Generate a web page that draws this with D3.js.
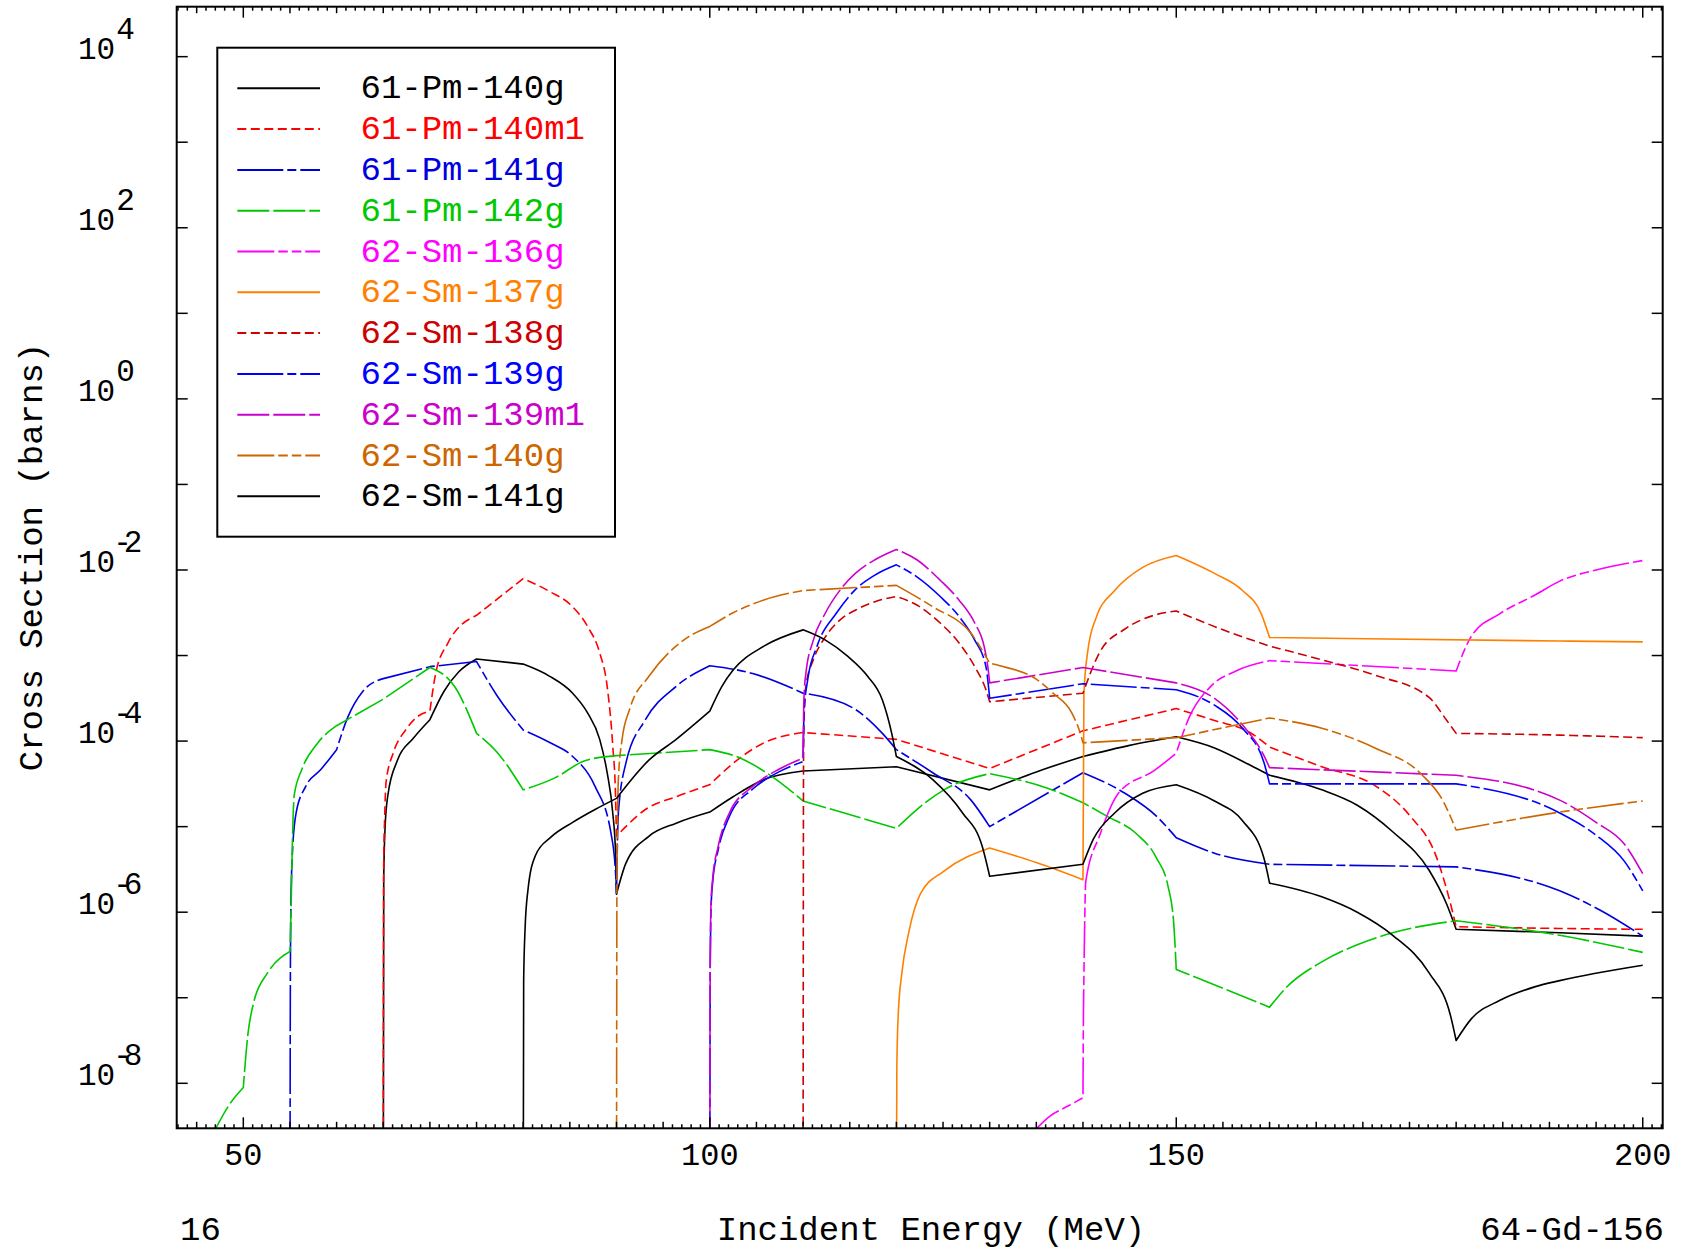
<!DOCTYPE html>
<html><head><meta charset="utf-8">
<script src="https://cdn.jsdelivr.net/npm/d3@7"></script>
<style>body{margin:0;background:#fff}svg{display:block}</style>
</head><body>
<svg id="chart" width="1686" height="1251"></svg>
<script>
// ---------------- DATA (energy in MeV, log10 of cross section in barns) ----------------
const xTickValues = [50, 100, 150, 200];
const yTickExponents = [4, 2, 0, -2, -4, -6, -8];
const kinkEnergies = [50, 55, 60, 65, 70, 75, 80, 90, 100, 110, 120, 130, 140, 150, 160, 180, 200];
const seriesNames = ["61-Pm-140g","61-Pm-140m1","61-Pm-141g","61-Pm-142g","62-Sm-136g","62-Sm-137g","62-Sm-138g","62-Sm-139g","62-Sm-139m1","62-Sm-140g","62-Sm-141g"];
const seriesColors = ["#000000","#ff0000","#0000dd","#00c800","#ff00ff","#ff8000","#cc0000","#0000ff","#cc00cc","#cc6600","#000000"];
const seriesDashes = ["", "9,4.5", "46,4,9,4", "32,4", "37,4,9.5,4,9.5,4", "", "9,4.5", "46,4,9,4", "32,4", "37,4,9.5,4,9.5,4", ""];

const pm140g = [[65.0,-9.6],[65.05,-5.6],[65.2,-5.0],[65.5,-4.63],[66.5,-4.23],[68.2,-3.97],[70,-3.75],[71.5,-3.42],[73.1,-3.19],[75,-3.04],[80,-3.10],[82.8,-3.24],[85.3,-3.44],[86.9,-3.67],[88.2,-3.98],[89.0,-4.37],[89.6,-4.84],[89.9,-5.31],[90,-5.79],[91.0,-5.43],[93.5,-5.11],[96.4,-4.96],[100,-4.83],[102.5,-4.65],[105.8,-4.45],[110,-4.35],[120,-4.30],[130,-4.57],[135,-4.36],[140,-4.18],[145,-4.05],[150,-3.95],[154.1,-4.08],[157.9,-4.28],[160,-4.40],[165.6,-4.57],[169.4,-4.75],[173.2,-5.06],[177.1,-5.51],[179.0,-5.91],[180,-6.20],[191.1,-6.24],[200,-6.28]];
const pm140m1 = [[65.0,-9.6],[65.05,-5.4],[65.15,-4.9],[65.3,-4.48],[66.1,-4.13],[67.4,-3.87],[68.6,-3.72],[70,-3.65],[70.6,-3.22],[71.9,-2.86],[75,-2.53],[80,-2.10],[82.8,-2.25],[85.3,-2.43],[86.9,-2.66],[88.2,-2.97],[89.0,-3.36],[89.6,-4.06],[89.9,-4.65],[90,-5.11],[91.0,-5.00],[93.1,-4.80],[96.4,-4.65],[100,-4.51],[102.5,-4.26],[105.8,-4.02],[110,-3.90],[120,-3.98],[130,-4.32],[140,-3.88],[150,-3.62],[154.1,-3.76],[157.9,-3.90],[160,-4.07],[165.6,-4.30],[171.3,-4.52],[175.1,-4.88],[177.8,-5.33],[179.3,-5.86],[180,-6.17],[191.1,-6.19],[200,-6.20]];
const pm141g = [[55.0,-9.6],[55.05,-6.6],[55.12,-5.8],[55.25,-5.34],[55.66,-4.84],[56.69,-4.53],[58.33,-4.33],[60,-4.10],[61.2,-3.72],[62.8,-3.42],[65,-3.27],[70,-3.13],[75,-3.07],[77.2,-3.47],[80,-3.87],[82.9,-4.02],[85.3,-4.18],[87.7,-4.53],[89.4,-5.07],[89.9,-5.54],[90,-5.78],[90.2,-4.84],[91.0,-4.26],[93.1,-3.75],[96.4,-3.36],[100,-3.12],[104.6,-3.21],[110,-3.44],[115.6,-3.63],[118.5,-3.91],[120,-4.10],[123.9,-4.37],[128.0,-4.69],[130,-5.00],[140,-4.37],[144.5,-4.61],[147.9,-4.88],[150,-5.13],[154.1,-5.31],[160,-5.44],[180,-5.47],[191.1,-5.75],[195.5,-5.98],[200,-6.28]];
const pm142g = [[46.7,-8.6],[48.5,-8.25],[50,-8.05],[50.5,-7.42],[51.1,-7.06],[52.6,-6.71],[55,-6.46],[55.13,-5.9],[55.25,-5.24],[55.46,-4.63],[56.28,-4.33],[57.92,-4.03],[60,-3.82],[65,-3.51],[70,-3.14],[72.7,-3.37],[75,-3.91],[77.2,-4.13],[80,-4.57],[83.4,-4.43],[86.6,-4.23],[90,-4.17],[100,-4.10],[103.3,-4.20],[106.6,-4.41],[110,-4.70],[120,-5.02],[122.2,-4.80],[125.1,-4.57],[130,-4.38],[136.2,-4.55],[140,-4.72],[142.6,-4.88],[145.7,-5.08],[147.9,-5.37],[149.1,-5.69],[149.7,-6.09],[150,-6.67],[160,-7.11],[161.7,-6.89],[165.6,-6.58],[169.4,-6.38],[173.2,-6.24],[180,-6.10],[191.1,-6.27],[200,-6.47]];
const sm136g = [[134.4,-8.6],[136.5,-8.38],[138.5,-8.26],[140,-8.17],[140.05,-7.2],[140.1,-6.76],[140.3,-5.64],[141.8,-5.10],[143.8,-4.61],[147.7,-4.34],[150,-4.14],[151.4,-3.72],[153.7,-3.36],[156.4,-3.18],[160,-3.06],[180,-3.18],[181.6,-2.78],[184.7,-2.51],[188.5,-2.29],[191.1,-2.13],[195,-2.00],[200,-1.89]];
const sm137g = [[120.0,-9.6],[120.05,-7.8],[120.2,-7.2],[120.6,-6.7],[121.3,-6.25],[122.6,-5.78],[125.1,-5.52],[130,-5.25],[135,-5.42],[140,-5.62],[140.1,-3.45],[140.5,-2.96],[141.4,-2.56],[143.4,-2.24],[146.4,-1.97],[150,-1.83],[154.1,-2.04],[157.1,-2.24],[159.1,-2.51],[160,-2.79],[191.1,-2.83],[200,-2.84]];
const sm138g = [[110.0,-9.6],[110.05,-4.2],[110.12,-3.7],[110.3,-3.36],[111.1,-3.05],[112.4,-2.78],[114.0,-2.58],[115.6,-2.47],[117.7,-2.37],[120,-2.31],[122.2,-2.41],[124.7,-2.62],[126.7,-2.85],[128.4,-3.13],[129.6,-3.40],[130,-3.54],[140,-3.44],[141.8,-2.96],[144.5,-2.69],[147.6,-2.53],[150,-2.48],[154.8,-2.69],[160,-2.89],[165.6,-3.05],[171.3,-3.23],[177.1,-3.49],[179.0,-3.76],[180,-3.91],[191.1,-3.93],[200,-3.96]];
const sm139g = [[100.0,-9.6],[100.05,-6.6],[100.15,-5.9],[100.3,-5.66],[100.9,-5.27],[102.1,-4.88],[104.6,-4.56],[107.4,-4.36],[110,-4.24],[110.1,-3.67],[110.5,-3.28],[111.5,-2.89],[113.6,-2.50],[115.6,-2.23],[117.7,-2.06],[120,-1.94],[122.2,-2.08],[124.7,-2.31],[126.7,-2.54],[128.4,-2.82],[129.6,-3.13],[130,-3.50],[140,-3.33],[150,-3.40],[154.1,-3.58],[157.1,-3.85],[159.4,-4.25],[160,-4.50],[180,-4.50],[191.1,-4.84],[195,-5.10],[198,-5.40],[200,-5.75]];
const sm139m1 = [[100.0,-9.6],[100.05,-6.5],[100.15,-5.85],[100.3,-5.62],[100.9,-5.23],[102.1,-4.84],[104.6,-4.53],[107.4,-4.33],[110,-4.20],[110.1,-3.48],[110.3,-3.21],[111.1,-2.82],[112.4,-2.50],[114.0,-2.23],[115.6,-2.04],[117.7,-1.88],[120,-1.76],[122.2,-1.88],[124.7,-2.12],[126.7,-2.35],[128.4,-2.62],[129.4,-2.89],[129.8,-3.13],[130,-3.32],[140,-3.14],[150,-3.32],[154.1,-3.50],[157.1,-3.81],[159.4,-4.17],[160,-4.31],[180,-4.40],[191.1,-4.69],[195,-4.95],[198,-5.20],[200,-5.55]];
const sm140g = [[90.0,-9.6],[90.05,-5.6],[90.2,-4.45],[90.6,-3.98],[91.4,-3.63],[93.5,-3.24],[97.2,-2.82],[100,-2.66],[102.5,-2.50],[105.8,-2.35],[110,-2.24],[120,-2.18],[123.9,-2.43],[128.0,-2.74],[130,-3.09],[131.1,-3.12],[134.9,-3.27],[136.9,-3.45],[138.8,-3.67],[139.8,-3.94],[140,-4.02],[150,-3.96],[160,-3.73],[165.6,-3.85],[171.3,-4.08],[176.3,-4.39],[178.6,-4.70],[180,-5.04],[191.1,-4.83],[200,-4.70]];
const sm141g = [[80.0,-9.6],[80.05,-6.8],[80.2,-6.2],[80.5,-5.75],[81.3,-5.34],[83.0,-5.12],[85.3,-4.95],[87.7,-4.80],[90,-4.67],[93.5,-4.22],[96.4,-3.98],[100,-3.65],[101.3,-3.36],[102.5,-3.17],[105.8,-2.89],[110,-2.70],[112.4,-2.82],[114.8,-3.01],[116.9,-3.24],[118.5,-3.52],[119.5,-3.91],[120,-4.18],[123.9,-4.45],[127.1,-4.84],[129.2,-5.23],[130,-5.58],[140,-5.44],[141.1,-5.15],[143.4,-4.84],[146.4,-4.61],[150,-4.51],[154.1,-4.70],[157.1,-4.93],[159.4,-5.37],[160,-5.66],[165.6,-5.82],[169.4,-6.00],[173.2,-6.27],[177.1,-6.71],[179.4,-7.21],[180,-7.50],[181.6,-7.25],[184.7,-7.03],[188.5,-6.87],[191.1,-6.80],[200,-6.62]];
const seriesData = [pm140g, pm140m1, pm141g, pm142g, sm136g, sm137g, sm138g, sm139g, sm139m1, sm140g, sm141g];

// ---------------- LAYOUT ----------------
const FONT = "'Liberation Mono','DejaVu Sans Mono',monospace";
const P = {left: 176.7, right: 1662.7, top: 6.7, bottom: 1128.3};
const svg = d3.select("#chart");
const x = d3.scaleLinear().domain([42.86, 202.14]).range([P.left, P.right]);
const y = d3.scaleLog().domain([Math.pow(10, -8.526), Math.pow(10, 4.584)]).range([P.bottom, P.top]);

svg.append("defs").append("clipPath").attr("id", "clip")
  .append("rect").attr("x", P.left).attr("y", P.top)
  .attr("width", P.right - P.left).attr("height", P.bottom - P.top);

// data lines: smooth between grid energies, sharp corners at grid energies
const segLine = d3.line().x(d => x(d[0])).y(d => y(Math.pow(10, d[1]))).curve(d3.curveMonotoneX);
function pathFor(s) {
  const segs = [];
  let cur = [s[0]];
  for (let i = 1; i < s.length; i++) {
    cur.push(s[i]);
    if (kinkEnergies.includes(s[i][0]) && i < s.length - 1) { segs.push(cur); cur = [s[i]]; }
  }
  segs.push(cur);
  return segs.map((seg, k) => {
    const d = segLine(seg);
    return k === 0 ? d : d.replace(/^M/, "L");
  }).join("");
}
const gLines = svg.append("g").attr("clip-path", "url(#clip)");
seriesData.forEach((s, i) => {
  gLines.append("path").attr("d", pathFor(s)).attr("fill", "none")
    .attr("stroke", seriesColors[i]).attr("stroke-width", 1.6)
    .attr("stroke-dasharray", seriesDashes[i] || null)
    .attr("stroke-linejoin", "round");
});

// ticks
const gT = svg.append("g").attr("stroke", "#000").attr("stroke-width", 1.5);
d3.range(43, 203, 1).forEach(v => {
  const len = v % 50 === 0 ? 11 : (v % 5 === 0 ? 6.5 : 4);
  const px = x(v);
  gT.append("line").attr("x1", px).attr("x2", px).attr("y1", P.bottom).attr("y2", P.bottom - len);
  gT.append("line").attr("x1", px).attr("x2", px).attr("y1", P.top).attr("y2", P.top + len);
});
d3.range(-8, 5).forEach(e => {
  const py = y(Math.pow(10, e));
  gT.append("line").attr("x1", P.left).attr("x2", P.left + 11).attr("y1", py).attr("y2", py);
  gT.append("line").attr("x1", P.right).attr("x2", P.right - 11).attr("y1", py).attr("y2", py);
});

// frame
svg.append("rect").attr("x", P.left).attr("y", P.top)
  .attr("width", P.right - P.left).attr("height", P.bottom - P.top)
  .attr("fill", "none").attr("stroke", "#000").attr("stroke-width", 2);

// x tick labels
svg.append("g").selectAll("text").data(xTickValues).join("text")
  .attr("x", d => x(d)).attr("y", 1165).attr("text-anchor", "middle")
  .attr("font-family", FONT).attr("font-size", 32).text(d => d);

// y tick labels: "10" with superscript exponent
const gY = svg.append("g").attr("font-family", FONT).attr("font-size", 31);
yTickExponents.forEach(e => {
  const py = y(Math.pow(10, e));
  const t = gY.append("text").attr("x", 78).attr("y", py + 2);
  t.append("tspan").text("10");
  t.append("tspan").attr("dy", -20).attr("dx", e < 0 ? -2 : 1)
    .attr("letter-spacing", e < 0 ? -8 : 0)
    .text(e < 0 ? "-" + Math.abs(e) : String(e));
});

// axis titles
svg.append("text").attr("transform", "translate(42,557) rotate(-90)")
  .attr("text-anchor", "middle").attr("font-family", FONT).attr("font-size", 34)
  .text("Cross Section (barns)");
svg.append("text").attr("x", 931).attr("y", 1240).attr("text-anchor", "middle")
  .attr("font-family", FONT).attr("font-size", 34).text("Incident Energy (MeV)");
svg.append("text").attr("x", 180).attr("y", 1240)
  .attr("font-family", FONT).attr("font-size", 34).text("16");
svg.append("text").attr("x", 1664).attr("y", 1240).attr("text-anchor", "end")
  .attr("font-family", FONT).attr("font-size", 34).text("64-Gd-156");

// legend
const L = {x: 217.3, y: 47.7, w: 397.7, h: 489, row0: 88.3, dy: 40.8};
const gL = svg.append("g");
gL.append("rect").attr("x", L.x).attr("y", L.y).attr("width", L.w).attr("height", L.h)
  .attr("fill", "#fff").attr("stroke", "#000").attr("stroke-width", 2);
seriesNames.forEach((n, i) => {
  const ly = L.row0 + i * L.dy;
  gL.append("line").attr("x1", 237.3).attr("x2", 320).attr("y1", ly).attr("y2", ly)
    .attr("stroke", seriesColors[i]).attr("stroke-width", 2)
    .attr("stroke-dasharray", seriesDashes[i] || null);
  gL.append("text").attr("x", 360.5).attr("y", ly + 10).attr("fill", seriesColors[i])
    .attr("font-family", FONT).attr("font-size", 34).text(n);
});
</script>
</body></html>
